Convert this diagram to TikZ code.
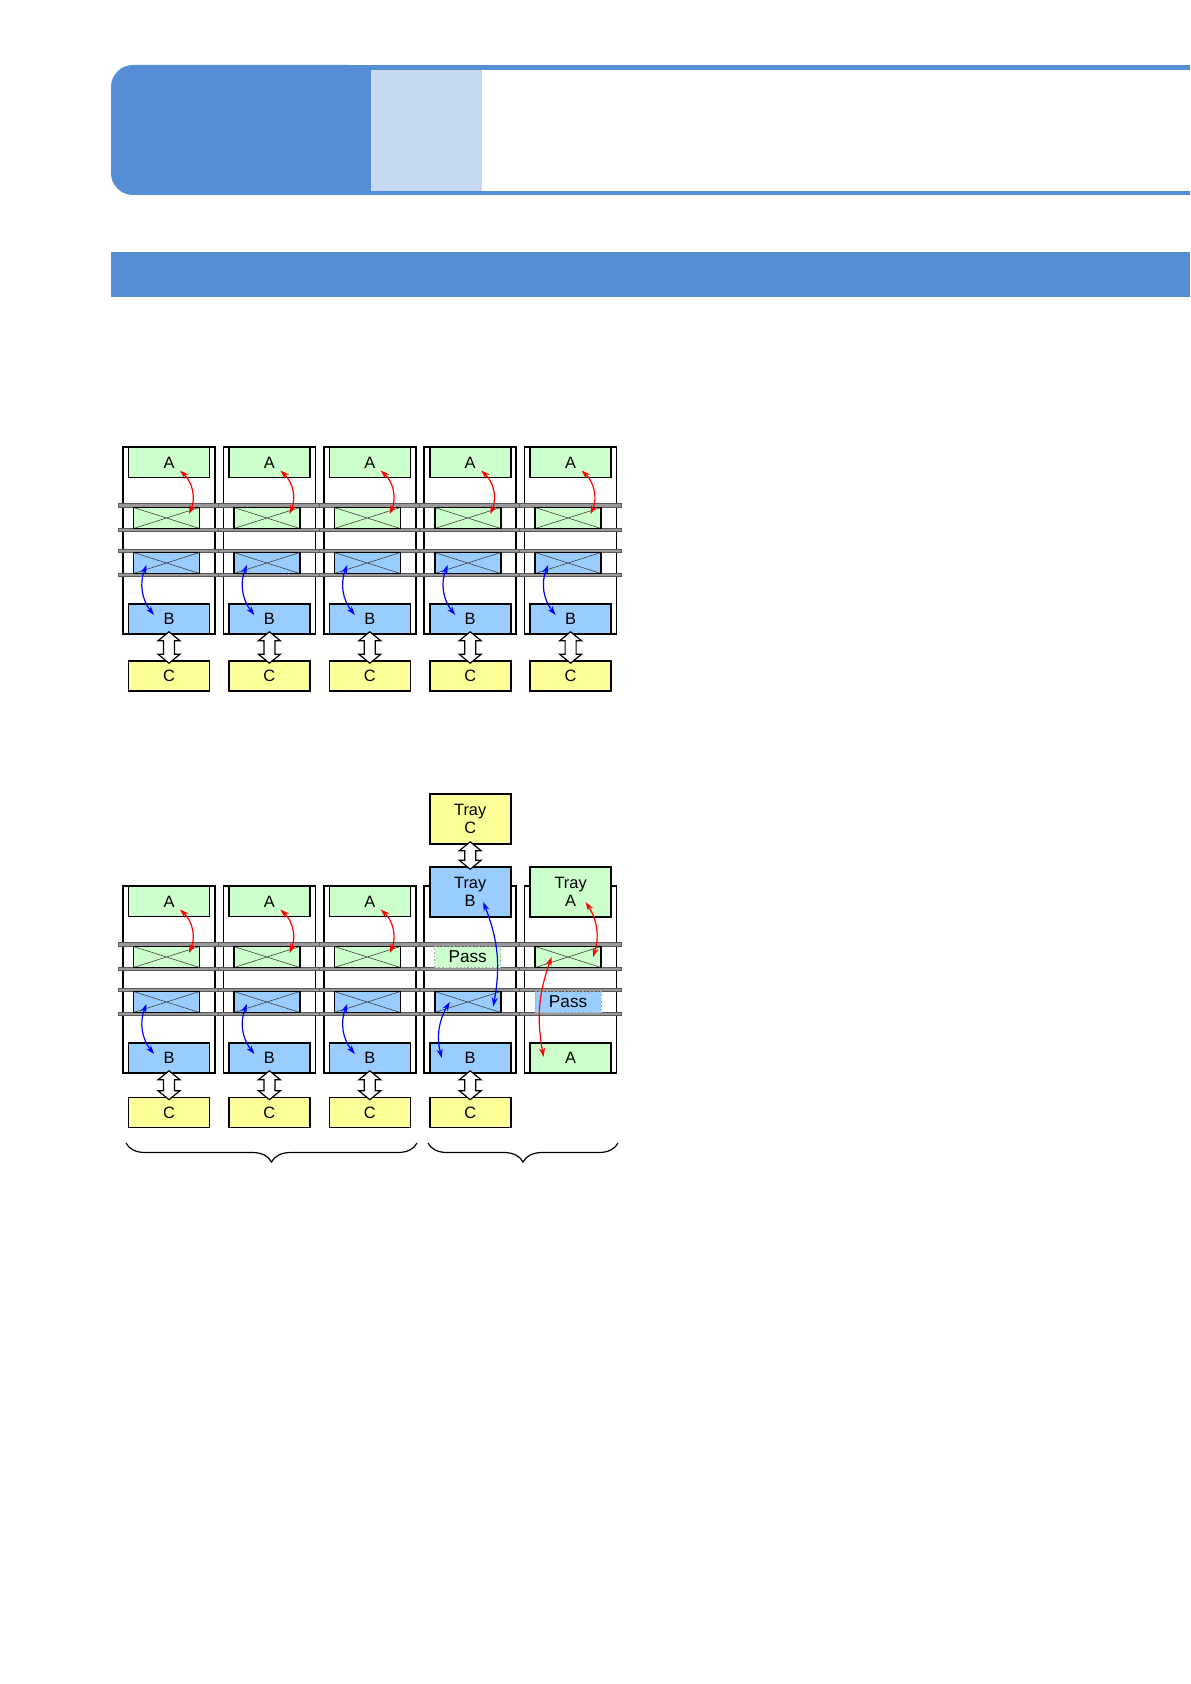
\documentclass[tikz,border=0pt]{standalone}
\usepackage{fontspec}
\setmainfont{Liberation Sans}
\usetikzlibrary{calc,arrows.meta,decorations.pathreplacing}

\definecolor{hdblue}{HTML}{558ED5}
\definecolor{hdpale}{HTML}{C6D9F1}
\definecolor{agreen}{HTML}{CCFFCC}
\definecolor{bblue}{HTML}{99CCFF}
\definecolor{cyellow}{HTML}{FFFF99}

\tikzset{
  cellbox/.style={draw, line width=0.8pt, minimum width=40.5pt, minimum height=15pt,
    inner sep=0pt, align=center, font=\fontsize{8.2}{9}\selectfont},
  abox/.style={cellbox, fill=agreen},
  bbox/.style={cellbox, fill=bblue},
  cbox/.style={cellbox, fill=cyellow},
  traybox/.style={minimum height=25pt},
  xbox/.style={draw, line width=0.8pt, minimum width=33pt, minimum height=10.5pt,
    inner sep=0pt, path picture={\draw[line width=0.3pt, #1]
      (path picture bounding box.north west) -- (path picture bounding box.south east)
      (path picture bounding box.south west) -- (path picture bounding box.north east);}},
  xbox/.default={black!75},
  passbox/.style={xbox=black!12, draw=black!35, densely dotted, line width=0.6pt,
    font=\fontsize{8.6}{9}\selectfont},
  colframe/.style={draw, line width=0.8pt},
  shelf/.style={fill=black!40, draw=black!65, line width=0.3pt},
  moveto/.style={{Stealth[length=4.5pt,width=3pt]}-{Stealth[length=4.5pt,width=3pt]},
    line width=0.6pt},
  dbl/.style={draw, fill=white, line width=0.6pt, line join=miter},
  grp/.style={decorate, decoration={brace, mirror, amplitude=9.5pt}, line width=0.6pt}
}

% hollow two-way arrow from the bottom of #1 to the top of #2
\newcommand\twoway[2]{%
  \draw[dbl] ($(#1.south)+(0,-3)$) -- ++(11,9) -- ++(-5.5,0) -- ($(#2.north)+(5.5,-6)$)
    -- ++(5.5,0) -- ($(#2.north)+(0,3)$) -- ++(-11,-9) -- ++(5.5,0)
    -- ($(#1.south)+(-5.5,6)$) -- ++(-5.5,0) -- cycle;}

\begin{document}
\begin{tikzpicture}[x=0.5pt,y=-0.5pt]
\useasboundingbox (0,0) rectangle (1190,1684);
% Header band
\fill[hdblue, rounded corners=11pt] (111,65) rectangle (371,195);
\fill[hdblue] (250,65) rectangle (371,195);
\fill[hdpale] (371,70) rectangle (482,191);
\fill[hdblue] (371,65) rectangle (1190,70);
\fill[hdblue] (371,191) rectangle (1190,195);
\fill[hdblue] (111,252) rectangle (1190,297);

% Upper layout: five columns, each A - B - C
\foreach \i in {1,...,5}{
  \pgfmathsetmacro{\colx}{123+100.4*(\i-1)}
  \draw[colframe] (\colx,447) rectangle ++(92,187);
  \foreach \y in {505.5,530,551,575}
    \draw[shelf] (\colx-5,\y-1.75) rectangle (\colx+97,\y+1.75);
  \node[abox] (a\i) at (\colx+46,462.5) {A};
  \node[xbox, fill=agreen] (xa\i) at (\colx+43.5,518) {};
  \node[xbox, fill=bblue] (xb\i) at (\colx+43.5,563) {};
  \node[bbox] (b\i) at (\colx+46,619) {B};
  \node[cbox] (c\i) at (\colx+46,676) {C};
  \draw[moveto, red] ($(a\i)+(11,8)$) to[bend left=35] ($(xa\i)+(22.5,-4)$);
  \draw[moveto, blue] ($(xb\i)+(-20,2)$) to[bend right=30] ($(b\i)+(-15,-4)$);
  \twoway{b\i}{c\i}
}

% Lower layout: frames and shelves
\foreach \i in {1,...,5}{
  \pgfmathsetmacro{\colx}{123+100.4*(\i-1)}
  \draw[colframe] (\colx,886) rectangle ++(92,187);
  \foreach \y in {944.5,969,990,1014}
    \draw[shelf] (\colx-5,\y-1.75) rectangle (\colx+97,\y+1.75);
}
% first three columns unchanged
\foreach \i in {1,2,3}{
  \pgfmathsetmacro{\colx}{123+100.4*(\i-1)}
  \node[abox] (na\i) at (\colx+46,901.5) {A};
  \node[xbox, fill=agreen] (nxa\i) at (\colx+43.5,957) {};
  \node[xbox, fill=bblue] (nxb\i) at (\colx+43.5,1002) {};
  \node[bbox] (nb\i) at (\colx+46,1058) {B};
  \node[cbox] (nc\i) at (\colx+46,1112.5) {C};
  \draw[moveto, red] ($(na\i)+(11,8)$) to[bend left=35] ($(nxa\i)+(22.5,-4)$);
  \draw[moveto, blue] ($(nxb\i)+(-20,2)$) to[bend right=30] ($(nb\i)+(-15,-4)$);
  \twoway{nb\i}{nc\i}
}
% Column 4: tray C above tray B
\node[cbox, traybox] (trayc) at (470.2,819) {Tray\\C};
\node[bbox, traybox] (trayb) at (470.2,892) {Tray\\B};
\node[passbox, fill=agreen] (passa) at (467.7,957) {Pass};
\node[xbox, fill=bblue] (nxb4) at (467.7,1002) {};
\node[bbox] (nb4) at (470.2,1058) {B};
\node[cbox] (nc4) at (470.2,1112.5) {C};
\twoway{trayc}{trayb}
\twoway{nb4}{nc4}
\draw[moveto, blue] ($(trayb)+(13,10)$) to[bend left=16] ($(nxb4)+(25.5,4.5)$);
\draw[moveto, blue] ($(nxb4)+(-18,0)$) to[bend right=22] ($(nb4)+(-28.5,0)$);
% Column 5: tray A, pass through to A
\node[abox, traybox] (traya) at (570.6,892) {Tray\\A};
\node[xbox, fill=agreen] (nxa5) at (568.1,957) {};
\node[passbox, fill=bblue] (passb) at (568.1,1002) {Pass};
\node[abox] (na5) at (570.6,1058) {A};
\draw[moveto, red] ($(traya)+(15,10)$) to[bend left=25] ($(nxa5)+(25,0)$);
\draw[moveto, red] ($(nxa5)+(-16.5,0)$) to[bend right=15] ($(na5)+(-27,-1)$);

% Braces under the lower layout
\draw[grp] (126,1143) -- (417,1143);
\draw[grp] (428,1143) -- (618,1143);
\end{tikzpicture}
\end{document}
